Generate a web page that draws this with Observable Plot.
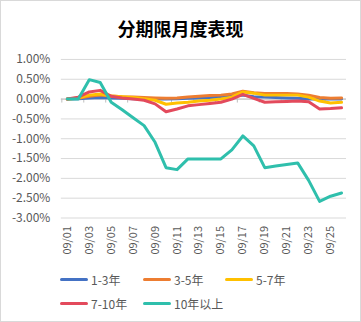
<!DOCTYPE html>
<html><head><meta charset="utf-8">
<script src="https://cdn.jsdelivr.net/npm/d3@7"></script>
<script src="https://cdn.jsdelivr.net/npm/@observablehq/plot@0.6"></script>
<style>
html,body{margin:0;padding:0;background:#fff;}
#wrap{width:361px;height:322px;box-sizing:border-box;border:1px solid #D9D9D9;position:relative;overflow:hidden;font-family:"Noto Sans CJK SC","Microsoft YaHei",sans-serif;}
#title{position:absolute;left:0;top:14px;width:100%;text-align:center;font-size:18px;font-weight:bold;color:#000;line-height:26px;}
#chart{position:absolute;left:-1px;top:41px;}
#legend{position:absolute;left:59px;top:268px;width:300px;font-size:12px;color:#595959;}
.item{position:absolute;display:flex;align-items:center;height:20px;}
.sw{width:28px;height:3px;border-radius:2px;margin-right:3px;}
</style></head>
<body><div id="wrap"><div id="title">分期限月度表现</div><div id="chart"></div><div id="legend"></div></div>
<script>
const dates = ["09/01","09/02","09/03","09/04","09/05","09/06","09/07","09/08","09/09","09/10","09/11","09/12","09/13","09/14","09/15","09/16","09/17","09/18","09/19","09/20","09/21","09/22","09/23","09/24","09/25","09/26"];
const seriesNames = ["1-3年","3-5年","5-7年","7-10年","10年以上"];
const seriesColors = ["#4472C4","#ED7D31","#FFC000","#E34A5C","#2FBFAC"];
const s1_3 = [0,0.01,0.03,0.04,0.03,0.02,0.01,0.0,0.0,0.0,0.01,0.02,0.03,0.04,0.05,0.07,0.1,0.06,0.05,0.04,0.03,0.02,0.0,0.0,0.0,0.0];
const s3_5 = [0,0.02,0.07,0.1,0.08,0.06,0.05,0.04,0.03,0.02,0.03,0.05,0.07,0.09,0.1,0.13,0.2,0.16,0.14,0.14,0.14,0.13,0.1,0.04,0.02,0.03];
const s5_7 = [0,0.03,0.1,0.13,0.08,0.06,0.04,0.01,-0.03,-0.13,-0.1,-0.08,-0.05,-0.03,0.0,0.05,0.18,0.15,0.1,0.1,0.1,0.1,0.05,-0.05,-0.1,-0.08];
const s7_10 = [0,0.05,0.18,0.22,0.07,0.03,0.0,-0.03,-0.12,-0.32,-0.25,-0.17,-0.14,-0.11,-0.08,0.0,0.12,0.02,-0.08,-0.07,-0.06,-0.05,-0.07,-0.25,-0.24,-0.22];
const s10p = [0,0,0.49,0.42,-0.08,-0.27,-0.47,-0.67,-1.09,-1.73,-1.78,-1.51,-1.51,-1.51,-1.51,-1.28,-0.93,-1.18,-1.73,-1.69,-1.65,-1.61,-2.05,-2.58,-2.45,-2.37];
const yTicks = [1,0.5,0,-0.5,-1,-1.5,-2,-2.5,-3];
const xTickLabels = dates.filter((d,i)=>i%2===0);

const allSeries = [s1_3,s3_5,s5_7,s7_10,s10p];
const rows = [];
allSeries.forEach((arr,k)=>arr.forEach((v,i)=>rows.push({date:dates[i],value:v,series:seriesNames[k]})));
const tickRows = dates.filter((d,i)=>i%2===0).map(d=>({date:d}));

const chart = Plot.plot({
  width:361, height:216,
  marginLeft:61, marginRight:14, marginTop:17, marginBottom:40,
  style:{fontFamily:'"Noto Sans CJK SC","Microsoft YaHei",sans-serif', color:"#595959", background:"transparent"},
  x:{type:"point", domain:dates, padding:0.5, label:null},
  y:{domain:[-3,1], label:null},
  color:{domain:seriesNames, range:seriesColors},
  marks:[
    Plot.gridY(yTicks,{stroke:"#D9D9D9", strokeOpacity:1}),
    Plot.ruleY([0],{stroke:"#BFBFBF"}),
    Plot.ruleX(tickRows,{x:"date", y1:0, y2:-0.1, dx:-5.5, stroke:"#BFBFBF"}),
    Plot.axisY(yTicks,{tickSize:0, tickPadding:11, fontSize:12, fill:"#595959", tickFormat:d=>d.toFixed(2)+"%"}),
    Plot.axisX(xTickLabels,{tickSize:0, tickRotate:-90, tickPadding:8, fontSize:11, fill:"#595959", anchor:"bottom"}),
    Plot.line(rows,{x:"date", y:"value", z:"series", stroke:"series", strokeWidth:3, strokeLinejoin:"round", strokeLinecap:"round"})
  ]
});
document.getElementById("chart").appendChild(chart);

const leg = document.getElementById("legend");
const pos = [[0,0],[83,0],[165,0],[0,24],[83,24]];
seriesNames.forEach((n,i)=>{
  const d=document.createElement("div"); d.className="item";
  d.style.left=pos[i][0]+"px"; d.style.top=pos[i][1]+"px";
  d.innerHTML=`<span class="sw" style="background:${seriesColors[i]}"></span><span>${n}</span>`;
  leg.appendChild(d);
});
</script></body></html>
